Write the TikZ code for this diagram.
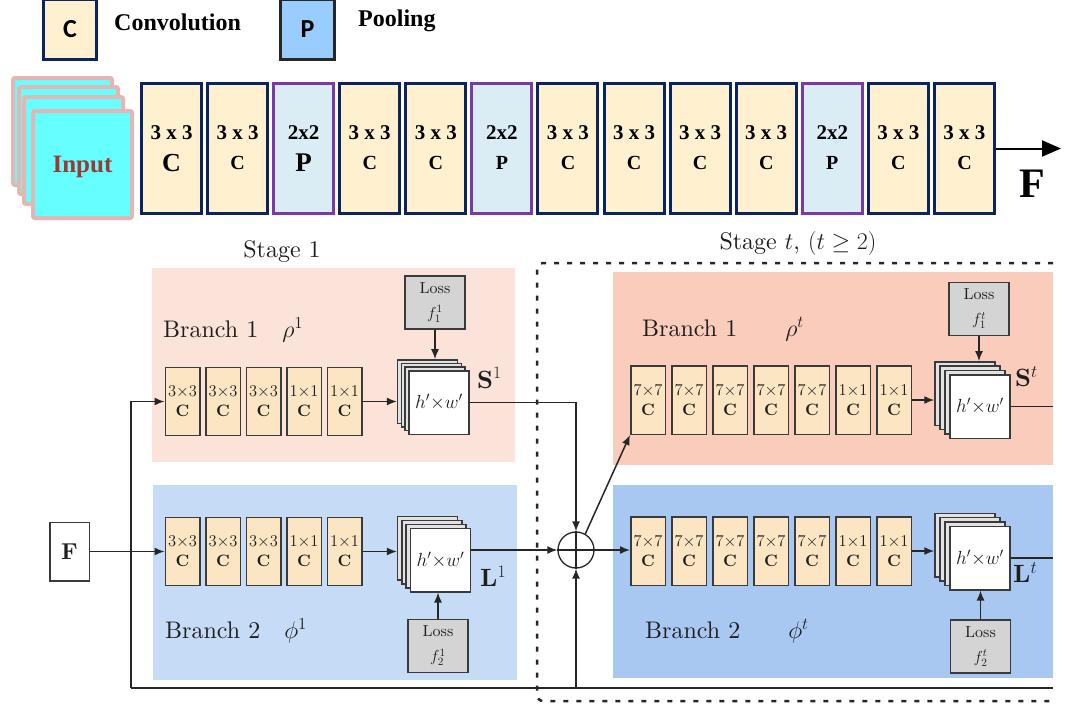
\documentclass[tikz,border=0pt]{standalone}
\usepackage{fix-cm}
\usepackage{fontspec}
\usepackage{amssymb}
\usetikzlibrary{arrows.meta}
\setmainfont{lmroman10-regular.otf}[BoldFont=lmroman10-bold.otf,ItalicFont=lmroman10-italic.otf]
\newfontfamily\topserif{Liberation Serif}
\newfontfamily\topsans{Carlito}
\newcommand\fsz[1]{\fontsize{#1}{#1}\selectfont}

\definecolor{cnavy}{HTML}{0B2460}
\definecolor{cpurple}{HTML}{7A3AA6}
\definecolor{cyell}{HTML}{FFF1CF}
\definecolor{cpoolf}{HTML}{DAEDF4}
\definecolor{clegp}{HTML}{99CCFF}
\definecolor{cinb}{HTML}{E3B5B3}
\definecolor{cinf}{HTML}{66FFFF}
\definecolor{cinput}{HTML}{9A3A34}
\definecolor{cpinkA}{HTML}{FCE3DA}
\definecolor{cblueA}{HTML}{C6DCF6}
\definecolor{cpinkB}{HTML}{F9CCBC}
\definecolor{cblueB}{HTML}{A8C8F2}
\definecolor{cblk}{HTML}{FBE5C2}
\definecolor{cedge}{HTML}{3A3A3A}
\definecolor{closs}{HTML}{D4D4D4}
\definecolor{cback}{HTML}{E2E2E2}
\definecolor{cink}{HTML}{1E1E1E}

% a stack of feature maps: name, centre x, centre y, step x, step y
\newcommand\fmaps[5]{%
  \foreach \j in {3,2,1}{\node[backmap] (#1-\j) at ({#2-\j*#4},{#3-\j*#5}) {};}
  \node[frontmap] (#1) at (#2,#3) {$h'{\times}w'$};
}

\begin{document}
\begin{tikzpicture}[x=1pt,y=-1pt,
  topc/.style={draw=cnavy,fill=cyell,line width=3pt,minimum width=60pt,minimum height=130pt,inner sep=0pt},
  topp/.style={topc,draw=cpurple,fill=cpoolf},
  inlayer/.style={draw=cinb,fill=cinf,line width=4pt,minimum width=99pt,minimum height=107pt,
    rounded corners=2pt,inner sep=0pt,anchor=north west},
  region/.style={inner sep=0pt,draw=none},
  blk/.style={draw=cedge,fill=cblk,line width=1.5pt,minimum width=34.5pt,minimum height=68pt,
    inner sep=0pt,align=center,text=cink,font=\fontsize{16.5}{20}\selectfont},
  backmap/.style={draw=cedge,fill=cback,line width=1.5pt,minimum width=60pt,minimum height=63.5pt,inner sep=0pt},
  frontmap/.style={backmap,fill=white,text=cink,font=\fsz{19}},
  loss/.style={draw=cedge,fill=closs,line width=1.5pt,minimum width=60pt,minimum height=53pt,
    inner sep=0pt,align=center,text=cink,font=\fontsize{16}{25}\selectfont},
  lbl/.style={inner sep=0pt,text=cink,font=\fsz{24}},
  outlbl/.style={inner sep=0pt,anchor=west,text=cink,font=\fsz{25}},
  wire/.style={line width=1.5pt,draw=black!85},
  arr/.style={wire,-{Latex[length=10pt,width=8pt]}},
  frame/.style={line width=2.5pt,draw=black!85,dash pattern=on 5pt off 8pt,rounded corners=6pt}
]
\useasboundingbox (0,0) rectangle (1067,704);

% ---------- legend ----------
\node[draw=cnavy,fill=cyell,line width=3pt,minimum width=53pt,minimum height=60pt,inner sep=0pt]
  (legc) at (70,29) {\topsans\bfseries\fsz{26}C};
\node[anchor=west,inner sep=0pt,font=\topserif\bfseries\fsz{24}] (legct) at (114,22) {Convolution};
\node[draw=black!85,fill=clegp,line width=3pt,minimum width=54pt,minimum height=60pt,inner sep=0pt]
  (legp) at (307.5,29) {\topsans\bfseries\fsz{26}P};
\node[anchor=west,inner sep=0pt,font=\topserif\bfseries\fsz{24}] (legpt) at (358,21) {Pooling};

% ---------- input stack ----------
\foreach \i/\x/\y in {1/9/74,2/15/83,3/20/93,4/29/107}
  \node[inlayer] (in\i) at (\x+2,\y+2) {};
\node[inner sep=0pt,font=\topserif\bfseries\fsz{25},text=cinput] (intxt) at ([yshift=-2.5pt]in4.center) {Input};

% ---------- backbone ----------
\foreach \k/\t/\a/\b/\s in {0/c/3 x 3/C/26,1/c/3 x 3/C/20,2/p/2x2/P/27,3/c/3 x 3/C/20,4/c/3 x 3/C/20,
    5/p/2x2/P/20,6/c/3 x 3/C/20,7/c/3 x 3/C/20,8/c/3 x 3/C/20,9/c/3 x 3/C/20,10/p/2x2/P/20,
    11/c/3 x 3/C/20,12/c/3 x 3/C/20}{
  \node[top\t] (t\k) at ({171.5+66.08*\k},148.5) {};
  \node[inner sep=0pt,font=\topserif\bfseries\fsz{21}] (t\k a) at ([yshift=15.5pt]t\k.center) {\a};
  \node[inner sep=0pt,font=\topserif\bfseries\fsz{\s}] (t\k b) at ([yshift=-14.5pt]t\k.center) {\b};
}
\coordinate (fend) at (1061,148.5);
\draw[line width=2pt,-{Triangle[length=19pt,width=16pt]}] (t12.east) -- (fend);
\node[inner sep=0pt,font=\topserif\bfseries\fsz{42}] (ftop) at (1032,184) {F};

% ---------- branch backgrounds ----------
\node[region,fill=cpinkA,minimum width=363pt,minimum height=194pt] (r1a) at (333.5,365) {};
\node[region,fill=cblueA,minimum width=364pt,minimum height=195pt] (r1b) at (335,582.5) {};
\node[region,fill=cpinkB,minimum width=440pt,minimum height=193pt] (r2a) at (833,368.5) {};
\node[region,fill=cblueB,minimum width=440pt,minimum height=193pt] (r2b) at (833,581.5) {};

% dotted frame of stage t
\draw[frame] (1053,263) -- (537,263) -- (537,701) -- (1053,701);

% ---------- labels ----------
\node[lbl,anchor=base] (st1) at (282,257) {Stage 1};
\node[lbl,anchor=base] (stt) at (798,249) {Stage $t$, $(t\geq 2)$};
\node[lbl,anchor=base west] (bl1a) at (163,337) {Branch 1\quad$\rho^1$};
\node[lbl,anchor=base west] (bl1b) at (165,638) {Branch 2\quad$\phi^1$};
\node[lbl,anchor=base west] (bl2a) at (642,336) {Branch 1\qquad$\rho^t$};
\node[lbl,anchor=base west] (bl2b) at (645,638) {Branch 2\qquad$\phi^t$};

% ---------- stage 1 blocks ----------
\foreach \k/\a in {0/3,1/3,2/3,3/1,4/1}{
  \node[blk] (pa\k) at ({182.5+40.5*\k},401.5) {$\a{\times}\a$\\$\mathbf{C}$};
  \node[blk] (pb\k) at ({182.5+40.5*\k},551.5) {$\a{\times}\a$\\$\mathbf{C}$};
}
% ---------- stage t blocks ----------
\foreach \k/\a in {0/7,1/7,2/7,3/7,4/7,5/1,6/1}{
  \node[blk,minimum height=68.5pt] (qa\k) at ({648+41*\k},400) {$\a{\times}\a$\\$\mathbf{C}$};
  \node[blk,minimum height=68.5pt] (qb\k) at ({648+41*\k},551) {$\a{\times}\a$\\$\mathbf{C}$};
}

% ---------- feature maps ----------
\fmaps{sa}{439}{402.5}{3.8}{3.6}
\fmaps{sb}{440.5}{560}{4.3}{4}
\fmaps{ta}{980}{406.5}{5}{4.3}
\fmaps{tb}{980}{558}{5}{4.3}

% ---------- losses ----------
\node[loss] (la) at (435,302.5) {Loss\\$f_1^1$};
\node[loss] (lb) at (438,646) {Loss\\$f_2^1$};
\node[loss] (lta) at (979,309) {Loss\\$f_1^t$};
\node[loss] (ltb) at (980.5,646.5) {Loss\\$f_2^t$};

\node[outlbl] (sout1) at (477,378) {$\mathbf{S}^1$};
\node[outlbl] (lout1) at (480,576) {$\mathbf{L}^1$};
\node[outlbl] (soutt) at (1015,377) {$\mathbf{S}^t$};
\node[outlbl] (loutt) at (1013,573) {$\mathbf{L}^t$};

% ---------- input feature and sum ----------
\node[draw=cedge,fill=white,line width=1.5pt,minimum width=39.5pt,minimum height=58.5pt,inner sep=0pt,
  text=cink,font=\fsz{23}] (F) at (69.5,551.5) {$\mathbf{F}$};
\node[draw=black!85,circle,line width=1.3pt,minimum size=36pt,inner sep=0pt] (sum) at (576,550) {};
\draw[wire,line width=1.3pt] (sum.north) -- (sum.south) (sum.west) -- (sum.east);

% ---------- connectors ----------
\coordinate (busb) at (131,688);
\coordinate (rcut) at (1053,688);
\draw[wire] (busb) -- (rcut);
\draw[arr] (busb) -- (busb |- pa0.west) -- (pa0.west);
\draw[arr] (sum |- busb) -- (sum.south);
\draw[arr] (F.east) -- (pb0.west);
\draw[arr] (pa4.east) -- (pa4.east -| sa-3.west);
\draw[arr] (pb4.east) -- (pb4.east -| sb-3.west);
\draw[arr] (la.south) -- (la.south |- sa-3.north);
\draw[arr] (lb.north) -- (lb.north |- sb.south);
\draw[arr] (sa.east) -- (sa.east -| sum.north) -- (sum.north);
\draw[arr] (sum -| sb.east) -- (sum.west);
\draw[arr] (sum.60) -- (qa0.south west);
\draw[arr] (sum.east) -- (sum.east -| qb0.west);
\draw[arr] (qa6.east) -- (qa6.east -| ta-3.west);
\draw[arr] (qb6.east) -- (qb6.east -| tb-3.west);
\draw[arr] (lta.south) -- (lta.south |- ta-3.north);
\draw[arr] (ltb.north) -- (ltb.north |- tb.south);
\draw[wire] (ta.east) -- (ta.east -| rcut);
\draw[wire] (tb.east) -- (tb.east -| rcut);
\end{tikzpicture}
\end{document}
